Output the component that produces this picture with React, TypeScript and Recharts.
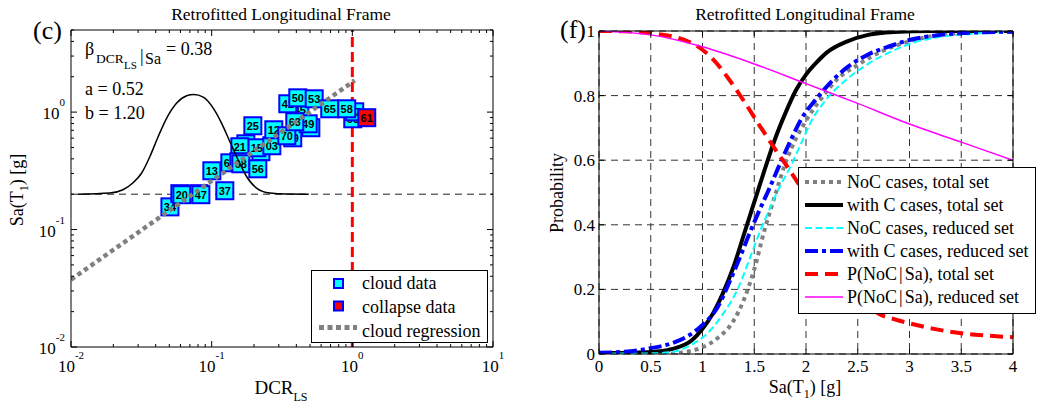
import React from 'react';
import {
  ComposedChart,
  Line,
  Scatter,
  XAxis,
  YAxis,
  CartesianGrid,
  ReferenceLine,
  ReferenceArea,
  Legend,
} from 'recharts';

// ─── Fonts / colours ──────────────────────────────────────────────────────────

const SERIF = '"Liberation Serif", "Times New Roman", serif';
const SANS = '"Liberation Sans", Arial, sans-serif';
const CYAN = '#00ffff';
const BLUE = '#0000ff';
const RED = '#ff0000';
const GRAY = '#808080';
const MAGENTA = '#ff00ff';

// ─── Panel (c): cloud analysis data ──────────────────────────────────────────

const DCR_TICKS = [
  0.01, 0.02, 0.03, 0.04, 0.05, 0.06, 0.07, 0.08, 0.09,
  0.1, 0.2, 0.3, 0.4, 0.5, 0.6, 0.7, 0.8, 0.9,
  1, 2, 3, 4, 5, 6, 7, 8, 9, 10,
];
const SA_LOG_TICKS = [
  0.01, 0.02, 0.03, 0.04, 0.05, 0.06, 0.07, 0.08, 0.09,
  0.1, 0.2, 0.3, 0.4, 0.5, 0.6, 0.7, 0.8, 0.9,
  1, 2, 3, 4, 5,
];
const DECADE_EXP: Record<string, string> = { '0.01': '-2', '0.1': '-1', '1': '0', '10': '1' };

// drawn back to front
const CLOUD_IDS = ['31', '19', '79', '59', '45', '60', '57', '34', '29', '20', '17', '47', '37', '13', '15', '21', '64', '62', '68', '56', '03', '25', '12', '49', '70', '63', '41', '50', '53', '65', '58'];
const CLOUD_DCR = [0.175, 0.224, 0.377, 0.507, 0.423, 1.007, 1.04, 0.0505, 0.0594, 0.0614, 0.0811, 0.0838, 0.124, 0.1003, 0.2094, 0.1586, 0.1347, 0.156, 0.1612, 0.2129, 0.2677, 0.1962, 0.2765, 0.4855, 0.342, 0.3899, 0.3477, 0.4095, 0.5355, 0.691, 0.9124];
const CLOUD_SA = [0.537, 0.46, 0.604, 0.736, 1.046, 0.877, 1.006, 0.156, 0.202, 0.198, 0.202, 0.198, 0.214, 0.3165, 0.497, 0.507, 0.37, 0.378, 0.363, 0.329, 0.517, 0.765, 0.707, 0.795, 0.629, 0.827, 1.177, 1.323, 1.298, 1.067, 1.067];

const COLLAPSE_IDS = ['61'];
const COLLAPSE_DCR = [1.266];
const COLLAPSE_SA = [0.896];

// lognormal pdf of DCR given Sa = 0.2 (drawn on top of the Sa = 0.2 line)
const PDF_DCR = [0.0112, 0.0189, 0.0234, 0.0275, 0.0318, 0.0364, 0.0417, 0.0479, 0.0564, 0.0664, 0.0748, 0.0871, 0.1026, 0.1175, 0.1346, 0.154, 0.177, 0.2085, 0.259, 0.34, 0.49];
const PDF_SA = [0.2, 0.2045, 0.218, 0.249, 0.303, 0.419, 0.62, 0.889, 1.193, 1.377, 1.412, 1.342, 1.081, 0.806, 0.562, 0.393, 0.283, 0.2256, 0.2045, 0.2004, 0.2];

const REG_DCR = [0.01, 1.04];
const REG_SA = [0.0375, 1.86];

const SA_REF = 0.2;
const DCR_LIMIT = 1;

// ─── Panel (f): probability curves ───────────────────────────────────────────

const SA_TICKS = [0, 0.5, 1, 1.5, 2, 2.5, 3, 3.5, 4];
const P_TICKS = [0, 0.2, 0.4, 0.6, 0.8, 1];

const NOC_TOTAL = [[0, 0], [0.7, 0.001], [0.85, 0.007], [1.0, 0.021], [1.15, 0.05], [1.3, 0.103], [1.4, 0.168], [1.5, 0.262], [1.6, 0.385], [1.7, 0.49], [1.8, 0.59], [1.9, 0.665], [2.0, 0.722], [2.15, 0.792], [2.3, 0.85], [2.5, 0.895], [2.75, 0.94], [3.0, 0.968], [3.3, 0.988], [3.6, 0.995], [4, 0.998]];
const WITHC_TOTAL = [[0, 0.003], [0.3, 0.004], [0.5, 0.006], [0.7, 0.015], [0.9, 0.043], [1.0, 0.078], [1.1, 0.125], [1.2, 0.19], [1.3, 0.27], [1.4, 0.37], [1.5, 0.47], [1.6, 0.57], [1.7, 0.665], [1.8, 0.745], [1.9, 0.815], [2.0, 0.865], [2.1, 0.902], [2.2, 0.933], [2.4, 0.968], [2.6, 0.988], [2.85, 0.997], [3.2, 1.0], [4, 1.0]];
const NOC_REDUCED = [[0, 0.001], [0.5, 0.002], [0.7, 0.006], [0.9, 0.03], [1.05, 0.065], [1.2, 0.125], [1.35, 0.208], [1.45, 0.29], [1.55, 0.375], [1.65, 0.45], [1.75, 0.52], [1.85, 0.58], [1.95, 0.65], [2.05, 0.72], [2.2, 0.79], [2.4, 0.852], [2.6, 0.898], [2.85, 0.94], [3.05, 0.965], [3.3, 0.982], [3.6, 0.991], [4, 0.998]];
const WITHC_REDUCED = [[0, 0.004], [0.25, 0.007], [0.5, 0.018], [0.7, 0.033], [0.85, 0.054], [1.0, 0.09], [1.15, 0.147], [1.25, 0.215], [1.35, 0.29], [1.45, 0.37], [1.55, 0.445], [1.65, 0.515], [1.75, 0.59], [1.85, 0.66], [1.95, 0.725], [2.1, 0.79], [2.25, 0.845], [2.4, 0.888], [2.6, 0.927], [2.8, 0.952], [3.0, 0.972], [3.3, 0.988], [3.6, 0.995], [4, 0.998]];
const PNOC_TOTAL = [[0, 1], [0.25, 0.999], [0.5, 0.993], [0.75, 0.98], [0.95, 0.953], [1.1, 0.913], [1.25, 0.853], [1.4, 0.783], [1.55, 0.708], [1.7, 0.635], [1.85, 0.565], [2.0, 0.49], [2.2, 0.37], [2.4, 0.25], [2.55, 0.17], [2.7, 0.125], [2.85, 0.108], [3.0, 0.095], [3.25, 0.077], [3.5, 0.064], [3.75, 0.057], [4, 0.052]];
const PNOC_REDUCED = [[0, 1], [0.5, 0.988], [1.0, 0.951], [1.5, 0.898], [2.0, 0.837], [2.5, 0.776], [3.0, 0.712], [3.5, 0.656], [4, 0.6]];

// ─── Geometry of the two plot boxes (chart-local px) ──────────────────────────

const L_BOX = { width: 520, height: 405, left: 71, right: 493, top: 30, bottom: 347 };
const R_BOX = { width: 532, height: 405, left: 79, right: 493, top: 31, bottom: 354 };

const toXY = (xs: number[], ys: number[]) => xs.map((x, i) => ({ x, y: ys[i] }));
const pairs = (pts: number[][]) => pts.map(([x, y]) => ({ x, y }));

// ─── Ticks ────────────────────────────────────────────────────────────────────

function DcrTick(props: any) {
  const { x, y, payload } = props;
  const exp = DECADE_EXP[String(payload.value)];
  const len = exp !== undefined ? 6 : 3;
  return (
    <g>
      <line x1={x} x2={x} y1={y} y2={y - len} stroke="#000" />
      <line x1={x} x2={x} y1={L_BOX.top} y2={L_BOX.top + len} stroke="#000" />
      {exp !== undefined && (
        <text x={x} y={y + 25} textAnchor="middle" fontFamily={SERIF} fontSize={17} fill="#000">
          10<tspan dy={-13} fontSize={11}>{exp}</tspan>
        </text>
      )}
    </g>
  );
}

function SaLogTick(props: any) {
  const { x, y, payload } = props;
  const exp = DECADE_EXP[String(payload.value)];
  const len = exp !== undefined ? 6 : 3;
  return (
    <g>
      <line x1={x} x2={x + len} y1={y} y2={y} stroke="#000" />
      <line x1={L_BOX.right} x2={L_BOX.right - len} y1={y} y2={y} stroke="#000" />
      {exp !== undefined && (
        <text x={x - 6} y={y + 7} textAnchor="end" fontFamily={SERIF} fontSize={17} fill="#000">
          10<tspan dy={-13} fontSize={11}>{exp}</tspan>
        </text>
      )}
    </g>
  );
}

function SaTick(props: any) {
  const { x, y, payload } = props;
  return (
    <g>
      <line x1={x} x2={x} y1={y} y2={y - 5} stroke="#000" />
      <line x1={x} x2={x} y1={R_BOX.top} y2={R_BOX.top + 5} stroke="#000" />
      <text x={x} y={y + 18} textAnchor="middle" fontFamily={SERIF} fontSize={17} fill="#000">
        {payload.value}
      </text>
    </g>
  );
}

function ProbTick(props: any) {
  const { x, y, payload } = props;
  return (
    <g>
      <line x1={x} x2={x + 5} y1={y} y2={y} stroke="#000" />
      <line x1={R_BOX.right} x2={R_BOX.right - 5} y1={y} y2={y} stroke="#000" />
      <text x={x - 4} y={y + 6} textAnchor="end" fontFamily={SERIF} fontSize={17} fill="#000">
        {payload.value}
      </text>
    </g>
  );
}

// ─── Markers and legends ──────────────────────────────────────────────────────

const squareShape = (fill: string) => (props: any) => {
  const { cx, cy, payload } = props;
  return (
    <g>
      <rect x={cx - 8.5} y={cy - 8.5} width={17} height={17} fill={fill} stroke={BLUE} strokeWidth={2} />
      <text x={cx} y={cy + 4} textAnchor="middle" fontFamily={SANS} fontWeight="bold" fontSize={11} fill="#000">
        {payload.id}
      </text>
    </g>
  );
};

function CloudLegend() {
  const text = { fontFamily: SERIF, fontSize: 18, fill: '#000' };
  return (
    <svg width={177} height={73} style={{ display: 'block' }}>
      <rect x={0.5} y={0.5} width={176} height={72} fill="#fff" stroke="#000" />
      <rect x={23} y={9} width={9} height={9} fill={CYAN} stroke={BLUE} strokeWidth={2} />
      <rect x={23} y={31.5} width={9} height={9} fill={RED} stroke={BLUE} strokeWidth={2} />
      <line x1={8} x2={46} y1={57.5} y2={57.5} stroke={GRAY} strokeWidth={5} strokeDasharray="5 3.5" />
      <text x={51} y={19} {...text}>cloud data</text>
      <text x={51} y={43} {...text}>collapse data</text>
      <text x={51} y={67} {...text}>cloud regression</text>
    </svg>
  );
}

const CURVE_STYLES = [
  { key: 'noc-total', data: NOC_TOTAL, stroke: GRAY, width: 4, dash: '4 4', label: 'NoC cases, total set' },
  { key: 'withc-total', data: WITHC_TOTAL, stroke: '#000', width: 4, dash: undefined, label: 'with C cases, total set' },
  { key: 'noc-reduced', data: NOC_REDUCED, stroke: CYAN, width: 2, dash: '7 3.5', label: 'NoC cases, reduced set' },
  { key: 'withc-reduced', data: WITHC_REDUCED, stroke: BLUE, width: 4, dash: '13 4 4 4', label: 'with C cases, reduced set' },
  { key: 'pnoc-total', data: PNOC_TOTAL, stroke: RED, width: 4, dash: '13 7', label: 'P(NoC|Sa), total set' },
  { key: 'pnoc-reduced', data: PNOC_REDUCED, stroke: MAGENTA, width: 1.5, dash: undefined, label: 'P(NoC|Sa), reduced set' },
];

function ProbLegend() {
  return (
    <svg width={238} height={147} style={{ display: 'block' }}>
      <rect x={0.5} y={0.5} width={237} height={146} fill="#fff" stroke="#000" />
      {CURVE_STYLES.map((c, i) => {
        const cy = 15 + i * 23;
        const [head, tail] = c.label.split('|');
        return (
          <g key={c.key}>
            <line x1={7} x2={45} y1={cy} y2={cy} stroke={c.stroke} strokeWidth={c.width} strokeDasharray={c.dash} />
            <text x={49} y={cy + 6} fontFamily={SERIF} fontSize={18} fill="#000">
              {tail === undefined ? head : (
                <>
                  {head}
                  <tspan dx={2}>|</tspan>
                  <tspan dx={2}>{tail}</tspan>
                </>
              )}
            </text>
          </g>
        );
      })}
    </svg>
  );
}

// ─── Panels ───────────────────────────────────────────────────────────────────

function CloudPanel() {
  const cloud = CLOUD_IDS.map((id, i) => ({ id, x: CLOUD_DCR[i], y: CLOUD_SA[i] }));
  const collapse = COLLAPSE_IDS.map((id, i) => ({ id, x: COLLAPSE_DCR[i], y: COLLAPSE_SA[i] }));
  return (
    <ComposedChart
      width={L_BOX.width}
      height={L_BOX.height}
      margin={{ top: L_BOX.top, right: L_BOX.width - L_BOX.right, bottom: 0, left: 0 }}
    >
      <XAxis
        dataKey="x"
        type="number"
        scale="log"
        domain={[0.01, 10]}
        allowDataOverflow
        ticks={DCR_TICKS}
        interval={0}
        height={L_BOX.height - L_BOX.bottom}
        tickSize={0}
        tickMargin={0}
        tickLine={false}
        axisLine={false}
        tick={(p: any) => <DcrTick {...p} />}
      />
      <YAxis
        type="number"
        scale="log"
        domain={[0.01, 5]}
        allowDataOverflow
        ticks={SA_LOG_TICKS}
        interval={0}
        width={L_BOX.left}
        tickSize={0}
        tickMargin={0}
        tickLine={false}
        axisLine={false}
        tick={(p: any) => <SaLogTick {...p} />}
      />
      <ReferenceLine y={SA_REF} stroke="#222" strokeWidth={1} strokeDasharray="7 5" zIndex={50} />
      <ReferenceLine x={DCR_LIMIT} stroke={RED} strokeWidth={3} strokeDasharray="10 5" zIndex={50} />
      <Scatter data={cloud} dataKey="y" shape={squareShape(CYAN)} isAnimationActive={false} zIndex={600} />
      <Scatter data={collapse} dataKey="y" shape={squareShape(RED)} isAnimationActive={false} zIndex={610} />
      <Line
        data={toXY(PDF_DCR, PDF_SA)}
        dataKey="y"
        type="monotone"
        stroke="#000"
        strokeWidth={1.5}
        dot={false}
        activeDot={false}
        isAnimationActive={false}
        zIndex={700}
      />
      <Line
        data={toXY(REG_DCR, REG_SA)}
        dataKey="y"
        type="linear"
        stroke={GRAY}
        strokeWidth={4.5}
        strokeDasharray="4.5 3.5"
        dot={false}
        activeDot={false}
        isAnimationActive={false}
        zIndex={710}
      />
      <ReferenceArea x1={0.01} x2={10} y1={0.01} y2={5} fill="none" stroke="#000" strokeWidth={1} zIndex={800} />
      <Legend
        layout="vertical"
        align="center"
        verticalAlign="middle"
        wrapperStyle={{ left: 311, top: 270, width: 177, height: 73 }}
        content={() => <CloudLegend />}
      />
    </ComposedChart>
  );
}

function ProbabilityPanel() {
  return (
    <ComposedChart
      width={R_BOX.width}
      height={R_BOX.height}
      margin={{ top: R_BOX.top, right: R_BOX.width - R_BOX.right, bottom: 0, left: 0 }}
    >
      <CartesianGrid stroke="#333" strokeDasharray="7 5" />
      <XAxis
        dataKey="x"
        type="number"
        domain={[0, 4]}
        allowDataOverflow
        ticks={SA_TICKS}
        interval={0}
        height={R_BOX.height - R_BOX.bottom}
        tickSize={0}
        tickMargin={0}
        tickLine={false}
        axisLine={false}
        tick={(p: any) => <SaTick {...p} />}
      />
      <YAxis
        type="number"
        domain={[0, 1]}
        allowDataOverflow
        ticks={P_TICKS}
        interval={0}
        width={R_BOX.left}
        tickSize={0}
        tickMargin={0}
        tickLine={false}
        axisLine={false}
        tick={(p: any) => <ProbTick {...p} />}
      />
      {CURVE_STYLES.map((c, i) => (
        <Line
          key={c.key}
          data={pairs(c.data)}
          dataKey="y"
          type="monotone"
          stroke={c.stroke}
          strokeWidth={c.width}
          strokeDasharray={c.dash}
          dot={false}
          activeDot={false}
          isAnimationActive={false}
          zIndex={700 + i}
        />
      ))}
      <ReferenceArea x1={0} x2={4} y1={0} y2={1} fill="none" stroke="#000" strokeWidth={1} zIndex={800} />
      <Legend
        layout="vertical"
        align="center"
        verticalAlign="middle"
        wrapperStyle={{ left: 278, top: 167, width: 238, height: 147 }}
        content={() => <ProbLegend />}
      />
    </ComposedChart>
  );
}

// ─── Page ─────────────────────────────────────────────────────────────────────

export default function App() {
  return (
    <div style={{ position: 'absolute', left: 0, top: 0, width: 1052, height: 405, background: '#fff', overflow: 'hidden' }}>
      <div style={{ position: 'absolute', left: 0, top: 0 }}>
        <CloudPanel />
      </div>
      <div style={{ position: 'absolute', left: 520, top: 0 }}>
        <ProbabilityPanel />
      </div>

      {/* titles, panel letters, axis labels and regression annotations */}
      <svg
        width={1052}
        height={405}
        style={{ position: 'absolute', left: 0, top: 0, pointerEvents: 'none' }}
        fontFamily={SERIF}
        fill="#000"
      >
        <text x={281} y={20} textAnchor="middle" fontSize={17.5}>Retrofitted Longitudinal Frame</text>
        <text x={805} y={20} textAnchor="middle" fontSize={17.5}>Retrofitted Longitudinal Frame</text>
        <text x={33} y={39} fontSize={26}>(c)</text>
        <text x={560} y={38} fontSize={26}>(f)</text>

        <text fontSize={18}>
          <tspan x={85} y={55}>β</tspan>
          <tspan x={96} y={63} fontSize={13.5}>DCR</tspan>
          <tspan x={124} y={69} fontSize={11}>LS</tspan>
          <tspan x={140} y={62} fontSize={18}>|</tspan>
          <tspan x={145} y={64} fontSize={16}>Sa</tspan>
          <tspan x={166} y={55}>= 0.38</tspan>
        </text>
        <text x={85} y={95} fontSize={18}>a = 0.52</text>
        <text x={85} y={119} fontSize={18}>b = 1.20</text>

        <text x={281} y={394} textAnchor="middle" fontSize={19}>
          DCR<tspan dy={7} fontSize={12}>LS</tspan>
        </text>
        <text transform="rotate(-90)" x={-190} y={23} textAnchor="middle" fontSize={18}>
          Sa(T<tspan dy={5} fontSize={12}>1</tspan><tspan dy={-5}>) [g]</tspan>
        </text>

        <text x={805} y={393} textAnchor="middle" fontSize={18}>
          Sa(T<tspan dy={5} fontSize={12}>1</tspan><tspan dy={-5}>) [g]</tspan>
        </text>
        <text transform="rotate(-90)" x={-193} y={563} textAnchor="middle" fontSize={18}>
          Probability
        </text>
      </svg>
    </div>
  );
}
